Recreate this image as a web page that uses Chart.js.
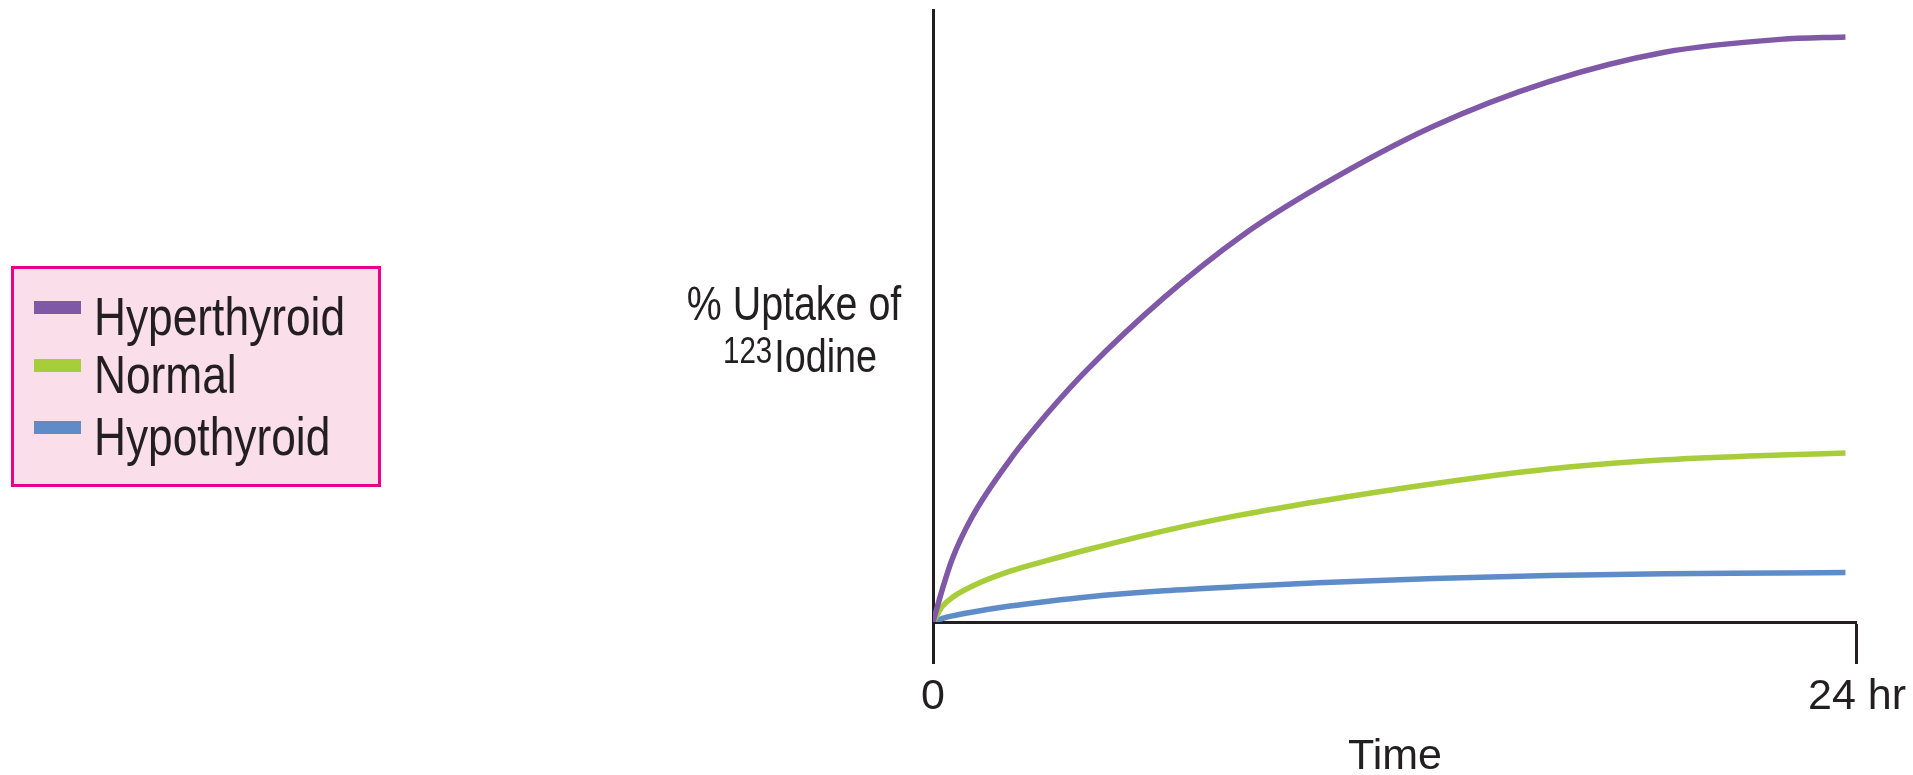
<!DOCTYPE html>
<html lang="en">
<head>
    <meta charset="UTF-8">
    <title>% Uptake of 123Iodine</title>
    <script src="https://cdn.jsdelivr.net/npm/chart.js"></script>
    <style>
        html, body { margin: 0; padding: 0; background: #fff; }
        canvas { display: block; }
    </style>
</head>
<body>
    <canvas id="chart" width="1913" height="775"></canvas>
    <script>
        // data (hours, % uptake on a 0-100 axis)
        const hours = [0, 0.25, 0.5, 1, 2, 3, 4, 6, 8, 10, 13, 16, 19, 22, 23.7];
        const hyperthyroid = [0, 5.5, 10.3, 17, 26.5, 34.3, 41.2, 53, 63, 71, 81, 88.3, 93.1, 95.2, 95.6];
        const normal = [0, 2.6, 4.0, 5.8, 8.3, 10.1, 11.8, 14.9, 17.5, 19.7, 22.6, 25.0, 26.5, 27.3, 27.6];
        const hypothyroid = [0, 0.6, 1.0, 1.6, 2.6, 3.4, 4.1, 5.1, 5.8, 6.4, 7.1, 7.6, 7.9, 8.0, 8.1];

        const seriesNames = ["Hyperthyroid", "Normal", "Hypothyroid"];
        const seriesColors = ["#7f58a7", "#a8cd3a", "#5e8cc9"];
        const xTickValues = [0, 24];
        const xTickLabels = ["0", "24 hr"];
        const xTitle = "Time";
        const yTitleLine1 = "% Uptake of";
        const yTitleSup = "123";
        const yTitleRest = "Iodine";

        const FONT = '"Liberation Sans", Arial, sans-serif';
        const INK = "#231f20";
        const NARROW = 0.82; // the original type is a condensed grotesque

        const toPoints = vals => vals.map((v, i) => ({ x: hours[i], y: v }));

        function narrowText(ctx, text, x, y) {
            ctx.save();
            ctx.translate(x, y);
            ctx.scale(NARROW, 1);
            ctx.fillText(text, 0, 0);
            ctx.restore();
        }

        const boxLegend = {
            id: "boxLegend",
            afterDraw(chart) {
                const ctx = chart.ctx;
                ctx.save();
                ctx.fillStyle = "#fadeea";
                ctx.fillRect(11, 266, 370, 221);
                ctx.strokeStyle = "#e8008c";
                ctx.lineWidth = 3;
                ctx.strokeRect(12.5, 267.5, 367, 218);
                const baselines = [335, 393, 455];
                ctx.font = "54px " + FONT;
                ctx.textBaseline = "alphabetic";
                ctx.textAlign = "left";
                chart.data.datasets.forEach((ds, i) => {
                    ctx.fillStyle = ds.borderColor;
                    ctx.fillRect(34, baselines[i] - 34, 47, 13);
                    ctx.fillStyle = INK;
                    narrowText(ctx, ds.label, 94, baselines[i]);
                });
                ctx.restore();
            }
        };

        const yLabel = {
            id: "yLabel",
            afterDraw(chart) {
                const ctx = chart.ctx;
                const cx = chart.chartArea.left - 139;
                ctx.save();
                ctx.fillStyle = INK;
                ctx.textBaseline = "alphabetic";
                ctx.textAlign = "center";
                ctx.font = "48px " + FONT;
                narrowText(ctx, yTitleLine1, cx, 320);
                ctx.textAlign = "left";
                ctx.font = "36px " + FONT;
                const supW = ctx.measureText(yTitleSup).width * NARROW;
                ctx.font = "46px " + FONT;
                const restW = ctx.measureText(yTitleRest).width * NARROW;
                const x0 = cx + 5 - (supW + restW) / 2;
                ctx.font = "36px " + FONT;
                narrowText(ctx, yTitleSup, x0, 363);
                ctx.font = "46px " + FONT;
                narrowText(ctx, yTitleRest, x0 + supW + 2, 372);
                ctx.restore();
            }
        };

        new Chart(document.getElementById("chart"), {
            type: "line",
            data: {
                datasets: [hyperthyroid, normal, hypothyroid].map((vals, i) => ({
                    label: seriesNames[i],
                    data: toPoints(vals),
                    borderColor: seriesColors[i],
                    backgroundColor: seriesColors[i],
                    borderWidth: 5.5,
                    pointRadius: 0,
                    fill: false,
                    cubicInterpolationMode: "monotone"
                }))
            },
            options: {
                responsive: false,
                animation: false,
                layout: { padding: { left: 913, right: 53, top: 10, bottom: 0 } },
                scales: {
                    x: {
                        type: "linear",
                        min: 0,
                        max: 24,
                        afterBuildTicks: s => { s.ticks = xTickValues.map(v => ({ value: v })); },
                        afterFit: s => { s.height = 153; },
                        grid: {
                            drawOnChartArea: false,
                            drawTicks: true,
                            tickLength: 42,
                            tickWidth: 3,
                            tickColor: INK,
                            color: INK
                        },
                        border: { display: true, color: INK, width: 3 },
                        ticks: {
                            padding: 7,
                            color: INK,
                            font: { family: FONT, size: 43 },
                            maxRotation: 0,
                            autoSkip: false,
                            callback: v => xTickLabels[xTickValues.indexOf(v)]
                        },
                        title: {
                            display: true,
                            text: xTitle,
                            color: INK,
                            font: { family: FONT, size: 43, lineHeight: 0.85 },
                            padding: { top: 0, bottom: 0 }
                        }
                    },
                    y: {
                        min: 0,
                        max: 100,
                        afterFit: s => { s.width = 20; },
                        grid: { display: false },
                        border: { display: true, color: INK, width: 3 },
                        ticks: { display: false }
                    }
                },
                plugins: {
                    legend: { display: false },
                    tooltip: { enabled: false }
                }
            },
            plugins: [boxLegend, yLabel]
        });
    </script>
</body>
</html>
